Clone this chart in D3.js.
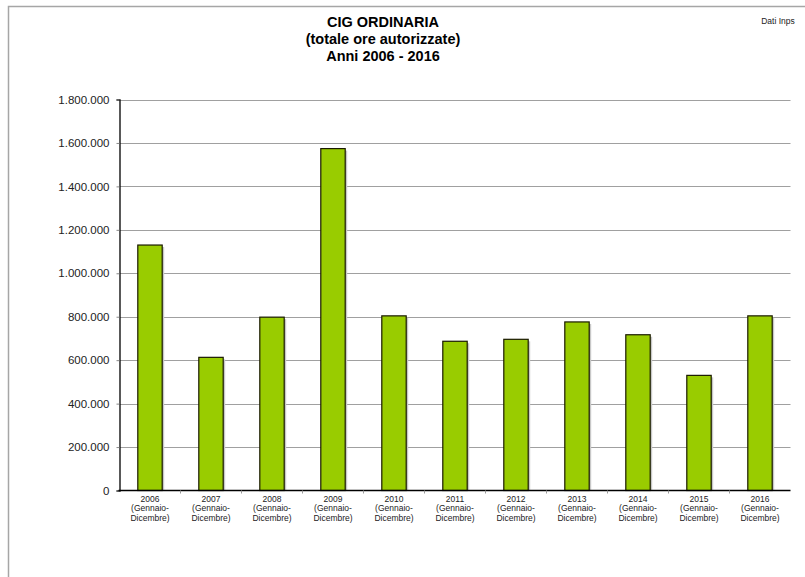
<!DOCTYPE html>
<html><head><meta charset="utf-8">
<script src="https://cdn.jsdelivr.net/npm/d3@7"></script>
<style>body{margin:0;background:#fff}svg{display:block;font-family:"Liberation Sans",Arial,sans-serif}</style>
</head><body><svg id="c" width="805" height="577"></svg>
<script>
const years = ["2006","2007","2008","2009","2010","2011","2012","2013","2014","2015","2016"];
const values = [1130000,613000,798000,1574000,804000,687000,696000,776000,717000,530000,804000];
const yTicks = [0,200000,400000,600000,800000,1000000,1200000,1400000,1600000,1800000];
const titleLines = ["CIG ORDINARIA","(totale ore autorizzate)","Anni 2006 - 2016"];

const svg = d3.select("#c");
svg.append("rect").attr("x",8.5).attr("y",6.5).attr("width",820).attr("height",600)
  .attr("fill","none").attr("stroke","#a6a6a6").attr("stroke-width",1.5);

const L=119.5, R=790.5, T=99.5, B=490.5;
const x = d3.scaleBand().domain(years).range([L,R]).paddingInner(0.6).paddingOuter(0.3);
const xc = d3.scaleBand().domain(years).range([L,R]);
const y = d3.scaleLinear().domain([0,1800000]).range([B,T]);
const fmt = d => d===0 ? "0" : d3.format(",")(d).replace(/,/g,".");

svg.append("g").selectAll("line").data(yTicks.filter(d=>d>0)).join("line")
  .attr("x1",L).attr("x2",R).attr("y1",d=>Math.round(y(d))+0.5).attr("y2",d=>Math.round(y(d))+0.5)
  .attr("stroke","#a0a0a0").attr("stroke-width",1.2);

// shadows
svg.append("g").selectAll("rect").data(values).join("rect")
  .attr("x",(d,i)=>x(years[i])+2).attr("y",d=>y(d)+2)
  .attr("width",x.bandwidth()).attr("height",d=>B-y(d)-2)
  .attr("fill","#c8c8c8");
svg.append("g").selectAll("rect").data(values).join("rect")
  .attr("x",(d,i)=>x(years[i])).attr("y",d=>y(d))
  .attr("width",x.bandwidth()).attr("height",d=>B-y(d))
  .attr("fill","#99cc00").attr("stroke","#1a1a00").attr("stroke-width",1.2);

const ya = svg.append("g").attr("transform",`translate(${L},0)`)
  .call(d3.axisLeft(y).tickValues(yTicks).tickFormat(fmt).tickSize(3).tickPadding(7));
ya.select(".domain").attr("stroke","#000").attr("stroke-width",1.3);
ya.selectAll(".tick line").attr("stroke","#888");
ya.selectAll("text").attr("font-size",11.5).attr("fill","#222").attr("font-family","Liberation Sans, Arial, sans-serif");

// x axis
svg.append("line").attr("x1",L-1).attr("x2",R).attr("y1",B).attr("y2",B).attr("stroke","#000").attr("stroke-width",1.5);
svg.append("g").selectAll("line").data(years.slice(1)).join("line")
  .attr("x1",d=>xc(d)).attr("x2",d=>xc(d)).attr("y1",B).attr("y2",B+3).attr("stroke","#999");
const xl = svg.append("g").selectAll("text").data(years).join("text")
  .attr("x",d=>xc(d)+xc.bandwidth()/2).attr("y",B+11)
  .attr("text-anchor","middle").attr("font-size",8.5).attr("fill","#222");
xl.append("tspan").attr("x",d=>xc(d)+xc.bandwidth()/2).attr("dy",0).text(d=>d);
xl.append("tspan").attr("x",d=>xc(d)+xc.bandwidth()/2).attr("dy",9.5).text("(Gennaio-");
xl.append("tspan").attr("x",d=>xc(d)+xc.bandwidth()/2).attr("dy",9.5).text("Dicembre)");

svg.append("g").selectAll("text").data(titleLines).join("text")
  .attr("x",383).attr("y",(d,i)=>27+i*17).attr("text-anchor","middle")
  .attr("font-size",14.5).attr("font-weight","bold").attr("fill","#000").text(d=>d);
svg.append("text").attr("x",778).attr("y",24).attr("text-anchor","middle").attr("font-size",8.5).attr("fill","#222").text("Dati Inps");
</script></body></html>
